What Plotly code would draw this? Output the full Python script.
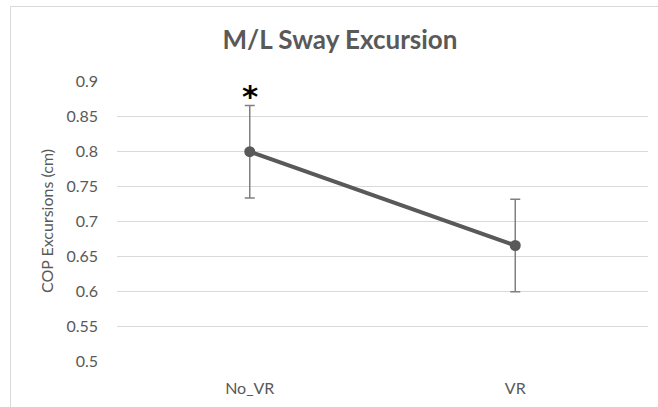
import plotly.graph_objects as go

categories = ["No_VR", "VR"]
values = [0.799, 0.665]
errors = [0.066, 0.066]
y_ticks = [0.5, 0.55, 0.6, 0.65, 0.7, 0.75, 0.8, 0.85, 0.9]
y_tick_labels = ["0.5", "0.55", "0.6", "0.65", "0.7", "0.75", "0.8", "0.85", "0.9"]

W, H = 658, 407
L, R, T, B = 117, 10, 81, 46
pw, ph = W - L - R, H - T - B

font = "Lato"
fig = go.Figure()
fig.add_trace(go.Scatter(
    x=categories, y=values, mode="lines+markers",
    line=dict(color="#595959", width=4),
    marker=dict(color="#595959", size=11),
    error_y=dict(type="data", array=errors, visible=True,
                 color="#808080", thickness=1.5, width=5),
    showlegend=False,
))

fig.add_annotation(x=categories[0], y=values[0] + errors[0], text="<b>*</b>",
                   showarrow=False, yanchor="bottom", yshift=-10,
                   font=dict(family="DejaVu Sans", size=31, color="#000000"))

# chart border (Excel chart area)
fig.add_shape(type="rect", xref="paper", yref="paper",
              x0=(10.5 - L) / pw, x1=(W + 20 - L) / pw,
              y0=-(T + 20) / ph, y1=(H - B - 6.5) / ph,
              line=dict(color="#d9d9d9", width=1), layer="below")

fig.update_layout(
    width=W, height=H,
    margin=dict(l=L, r=R, t=T, b=B),
    paper_bgcolor="white", plot_bgcolor="white",
    title=dict(text="<b>M/L Sway Excursion</b>", x=(W / 2 + 11) / W, xanchor="center",
               y=1 - 40 / H, yanchor="middle",
               font=dict(family=font, size=26, color="#595959")),
    xaxis=dict(type="category", range=[-0.5, 1.5], showgrid=False, zeroline=False,
               showline=False, ticks="", ticklabelstandoff=16,
               tickfont=dict(family=font, size=16, color="#595959")),
    yaxis=dict(range=[0.5, 0.9], tickvals=y_ticks, ticktext=y_tick_labels,
               showgrid=True, gridcolor="#d9d9d9", gridwidth=1, zeroline=False,
               showline=False, ticks="", ticklabelstandoff=18,
               tickfont=dict(family=font, size=16, color="#595959"),
               title=dict(text="COP Excursions (cm)", standoff=8,
                          font=dict(family=font, size=16, color="#595959"))),
    font=dict(family=font),
)

fig.write_html("out.html")
